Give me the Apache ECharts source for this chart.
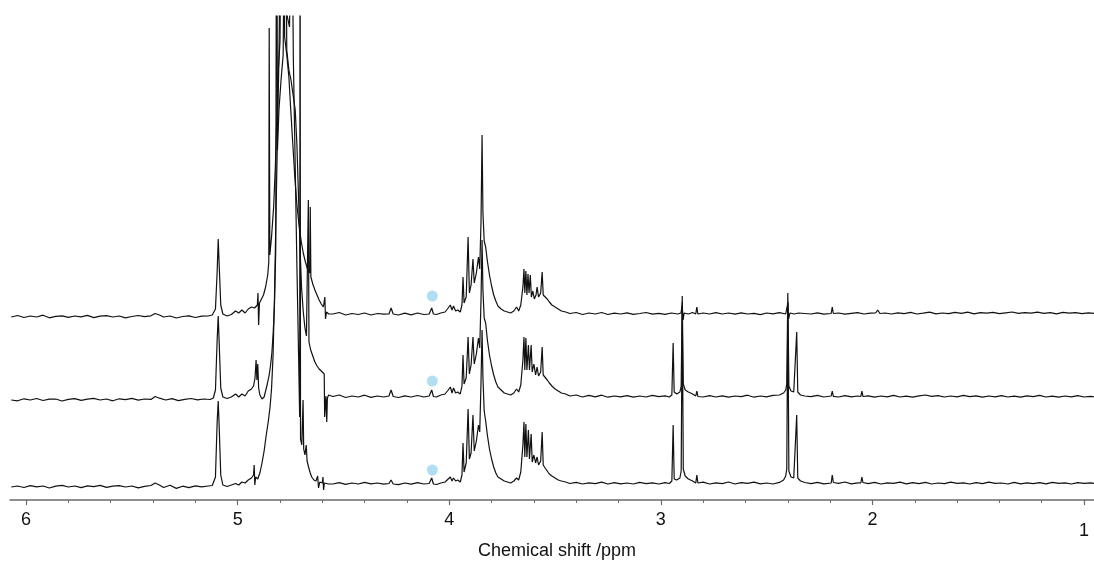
<!DOCTYPE html>
<html><head><meta charset="utf-8">
<script src="https://cdn.jsdelivr.net/npm/echarts@6/dist/echarts.min.js"></script>
<style>html,body{margin:0;padding:0;background:#fff}#c{width:1094px;height:563px}</style>
</head><body><div id="c"></div>
<script>
// Axis (chemical shift, ppm), reversed
const PPM_MIN = 0.953, PPM_MAX = 6.076;
const MAJOR_TICKS = [6, 5, 4, 3, 2, 1];
const MINOR_TICKS = [5.8,5.6,5.4,5.2,4.8,4.6,4.4,4.2,3.8,3.6,3.4,3.2,2.8,2.6,2.4,2.2,1.8,1.6,1.4,1.2];
const AXIS_TITLE = 'Chemical shift /ppm';
// stacking offsets (intensity units) of the three spectra: bottom, middle, top
const TRACE_OFFSETS = [13, 100, 183];
const Y_MAX = 484;
// marker (blue dot) position
const MARKER_PPM = 4.08;
const MARKER_LIFT = [17, 19, 21];

// [ppm, intensity]
const traceTop = [[6.07,0],[6.04,1.5],[6.01,-0.5],[5.98,1],[5.95,0],[5.92,1.8],[5.89,-0.8],[5.86,0.6],[5.83,1.2],[5.80,-0.4],[5.77,1],[5.74,0.2],[5.71,1.6],[5.68,-0.6],[5.65,0.8],[5.62,1.4],[5.59,0],[5.56,1],[5.53,-0.8],[5.50,0.5],[5.47,1.5],[5.44,0.3],[5.41,1.2],[5.39,3.5],[5.37,2],[5.35,0],[5.32,1],[5.29,-1],[5.26,0.5],[5.23,1.2],[5.20,-0.5],[5.17,0.8],[5.14,1],[5.12,2],[5.105,8],[5.097,45],[5.092,78],[5.087,50],[5.08,12],[5.07,3],[5.05,1],[5.03,2.5],[5.01,6],[4.995,4],[4.98,7],[4.965,4],[4.95,8],[4.935,10],[4.92,9],[4.907,12],[4.904,24],[4.901,-8],[4.897,14],[4.888,16],[4.878,22],[4.868,30],[4.858,42],[4.853,55],[4.851,289],[4.848,62],[4.84,80],[4.83,110],[4.822,150],[4.815,200],[4.81,240],[4.80,275],[4.786,620],[4.778,280],[4.768,262],[4.758,240],[4.75,210],[4.74,175],[4.73,140],[4.72,112],[4.71,92],[4.70,76],[4.69,64],[4.68,55],[4.67,48],[4.66,44],[4.657,110],[4.654,40],[4.645,33],[4.635,27],[4.625,22],[4.615,17],[4.605,13],[4.595,10],[4.59,12],[4.588,20],[4.585,-2],[4.58,5],[4.57,3],
[4.55,3],[4.52,4.5],[4.49,2],[4.46,3.5],[4.43,2.5],[4.40,4],[4.37,2],[4.34,3.5],[4.31,2.8],[4.285,3],[4.275,9],[4.265,3],[4.24,2],[4.21,3.8],[4.18,2.2],[4.15,4],[4.12,2.5],[4.095,3],[4.083,9],[4.075,3],[4.06,2.5],[4.04,4],[4.02,5],[4.005,9],[3.995,12],[3.987,7],[3.98,11],[3.97,6],[3.96,7],[3.948,5],[3.94,12],[3.935,40],[3.93,14],[3.92,20],[3.911,80],[3.905,24],[3.897,32],[3.888,58],[3.882,34],[3.872,44],[3.862,60],[3.856,48],[3.85,95],[3.845,182],[3.841,105],[3.835,76],[3.828,70],[3.82,56],[3.81,42],[3.80,31],[3.79,22],[3.78,16],[3.77,11],[3.755,8],[3.74,6],[3.725,5],[3.71,4],[3.695,6],[3.682,10],[3.672,6],[3.662,12],[3.652,30],[3.647,48],[3.643,24],[3.638,46],[3.633,22],[3.628,43],[3.623,24],[3.617,42],[3.612,20],[3.605,26],[3.598,18],[3.59,22],[3.585,30],[3.578,20],[3.568,24],[3.561,45],[3.556,22],[3.547,21],[3.537,18],[3.527,15],[3.515,12],[3.50,10],[3.485,8],[3.47,6],[3.45,5],[3.43,3.5],[3.40,4.5],[3.37,2.5],[3.34,4],[3.31,3],[3.28,4.5],[3.25,2.5],[3.22,3.8],[3.19,3],[3.16,4.2],[3.13,2.6],[3.10,3.5],[3.07,4.5],[3.04,2.8],[3.01,3.6],[2.98,2.6],[2.95,4],[2.92,3],[2.905,4],[2.899,12],[2.895,-3],[2.89,4],[2.87,3],[2.85,4.5],[2.835,3],[2.83,10],[2.825,3],[2.80,4],[2.77,3],[2.74,4.4],[2.71,3],[2.68,4],[2.65,2.8],[2.62,4.2],[2.59,3],[2.56,3.6],[2.53,2.4],[2.50,4],[2.47,3.2],[2.44,4.4],[2.41,3],[2.404,4],[2.40,14],[2.396,-2],[2.39,4],[2.37,3],[2.35,4],[2.32,3.5],[2.29,3],[2.26,4.2],[2.23,2.8],[2.195,3.5],[2.19,10],[2.185,3.5],[2.16,4],[2.13,2.8],[2.10,3.6],[2.07,4.4],[2.04,3],[2.01,3.8],[1.985,4],[1.975,7],[1.965,3.5],[1.94,4],[1.91,3],[1.88,4.2],[1.85,3.4],[1.82,4.6],[1.79,3],[1.76,3.8],[1.73,4.8],[1.70,3.2],[1.67,4],[1.64,3.4],[1.61,4.6],[1.58,3.6],[1.55,4.8],[1.52,3.2],[1.49,4.4],[1.46,3.8],[1.43,4.6],[1.40,3.4],[1.37,4.2],[1.34,5],[1.31,3.6],[1.28,4.4],[1.25,3.8],[1.22,4.8],[1.19,3.6],[1.16,4.4],[1.13,3.2],[1.10,4.6],[1.07,3.8],[1.04,4.4],[1.01,3.4],[0.98,4.2],[0.95,3.6]];

const traceMiddle = [[6.07,0],[6.04,-0.8],[6.01,1.2],[5.98,0],[5.95,1.5],[5.92,-0.5],[5.89,0.8],[5.86,1],[5.83,-1],[5.80,0.6],[5.77,1.4],[5.74,-0.4],[5.71,0.8],[5.68,1.6],[5.65,0],[5.62,1],[5.59,-0.8],[5.56,1.2],[5.53,0.4],[5.50,1.6],[5.47,-0.2],[5.44,1],[5.41,0.6],[5.39,3.5],[5.37,1.8],[5.34,0],[5.31,1.4],[5.28,-0.6],[5.25,0.6],[5.22,1.5],[5.19,0.2],[5.16,1],[5.13,0.5],[5.115,2],[5.105,10],[5.097,60],[5.092,84],[5.087,55],[5.08,12],[5.07,3],[5.05,1.5],[5.03,3],[5.01,6],[4.995,3],[4.98,6],[4.965,4],[4.95,9],[4.935,11],[4.925,14],[4.918,22],[4.913,40],[4.909,20],[4.905,36],[4.901,12],[4.895,5],[4.885,1],[4.875,3],[4.868,9],[4.86,16],[4.852,24],[4.845,34],[4.838,48],[4.832,68],[4.826,95],[4.82,150],[4.816,620],[4.812,250],[4.805,290],[4.795,320],[4.785,345],[4.775,620],[4.768,350],[4.758,330],[4.748,320],[4.738,305],[4.728,290],[4.72,255],[4.712,200],[4.705,150],[4.698,112],[4.69,88],[4.682,72],[4.675,64],[4.669,62],[4.666,200],[4.663,58],[4.655,50],[4.645,44],[4.635,38],[4.625,34],[4.615,31],[4.605,29],[4.597,27],[4.591,26],[4.589,-17],[4.586,-6],[4.583,4],[4.579,-22],[4.576,2],[4.57,5],
[4.55,3.5],[4.52,5],[4.49,2.5],[4.46,4],[4.43,3],[4.40,4.8],[4.37,2.6],[4.34,4],[4.31,3],[4.285,4],[4.275,10],[4.265,3.5],[4.24,2.5],[4.21,4.2],[4.18,3],[4.15,4.5],[4.12,3],[4.095,4],[4.083,10],[4.075,3.5],[4.06,3],[4.04,5],[4.02,6],[4.005,10],[3.995,13],[3.987,7],[3.98,12],[3.97,7],[3.96,8],[3.948,6],[3.94,14],[3.935,45],[3.93,16],[3.92,22],[3.911,63],[3.905,26],[3.897,35],[3.888,63],[3.882,36],[3.872,46],[3.862,62],[3.856,52],[3.85,100],[3.845,160],[3.841,110],[3.835,82],[3.828,77],[3.82,60],[3.81,45],[3.80,34],[3.79,25],[3.78,18],[3.77,13],[3.755,10],[3.74,7],[3.725,6],[3.71,5],[3.695,7],[3.682,11],[3.672,8],[3.662,15],[3.652,40],[3.647,63],[3.643,30],[3.638,62],[3.633,30],[3.626,55],[3.621,30],[3.613,55],[3.608,28],[3.60,36],[3.592,25],[3.585,33],[3.578,24],[3.568,28],[3.561,53],[3.556,25],[3.547,23],[3.537,20],[3.527,17],[3.515,14],[3.50,11],[3.485,9],[3.47,7],[3.45,6],[3.43,4],[3.40,5],[3.37,3],[3.34,4.6],[3.31,3.2],[3.28,4.8],[3.25,2.8],[3.22,4],[3.19,3.2],[3.16,4.4],[3.13,2.8],[3.10,4],[3.07,3],[3.04,4.6],[3.01,3.4],[2.98,4.2],[2.96,3],[2.948,5],[2.942,57],[2.937,8],[2.925,6],[2.91,8],[2.904,14],[2.899,104],[2.894,16],[2.885,10],[2.87,8],[2.85,6],[2.835,4],[2.83,9],[2.825,3.5],[2.80,3],[2.77,4.4],[2.74,3],[2.71,4.2],[2.68,2.8],[2.65,4],[2.62,3.4],[2.59,4.8],[2.56,2.8],[2.53,4],[2.50,3.2],[2.47,4.6],[2.44,5],[2.42,7],[2.41,10],[2.405,16],[2.40,107],[2.395,14],[2.385,9],[2.372,8],[2.363,10],[2.358,68],[2.353,8],[2.34,5],[2.32,4],[2.29,3.4],[2.26,4.6],[2.23,3],[2.195,4],[2.19,9],[2.185,3.6],[2.16,3],[2.13,4.4],[2.10,3.2],[2.07,4],[2.055,3.5],[2.05,9],[2.045,3.5],[2.02,4.2],[1.99,2.8],[1.96,4],[1.93,3.2],[1.90,4.6],[1.87,3],[1.84,3.8],[1.81,2.8],[1.78,4.2],[1.75,5],[1.72,3.6],[1.69,4.4],[1.66,3],[1.63,4],[1.60,3.2],[1.57,4.6],[1.54,3.4],[1.51,4.2],[1.48,2.8],[1.45,4],[1.42,3.2],[1.39,4.4],[1.36,3],[1.33,3.8],[1.30,2.8],[1.27,4.2],[1.24,3.4],[1.21,4.6],[1.18,3],[1.15,3.8],[1.12,2.8],[1.09,4],[1.06,3.2],[1.03,4.4],[1.00,3],[0.97,3.6],[0.95,3.2]];

const traceBottom = [[6.07,0],[6.04,1],[6.01,-0.5],[5.98,1.4],[5.95,0.2],[5.92,1],[5.89,-1],[5.86,0.8],[5.83,1.6],[5.80,0],[5.77,1],[5.74,-0.6],[5.71,1.2],[5.68,0.4],[5.65,1.6],[5.62,-0.4],[5.59,0.8],[5.56,1.4],[5.53,0],[5.50,1],[5.47,-0.8],[5.44,0.6],[5.41,1.5],[5.39,4],[5.37,2],[5.35,-0.5],[5.32,1.8],[5.29,-1.4],[5.26,0.8],[5.23,-0.6],[5.20,1.2],[5.17,0.2],[5.14,1],[5.12,1.5],[5.105,10],[5.097,65],[5.092,86],[5.087,58],[5.08,12],[5.07,2],[5.05,0.5],[5.03,2],[5.01,3.5],[4.995,2],[4.98,5],[4.965,4],[4.95,7],[4.935,9],[4.925,12],[4.922,22],[4.919,2],[4.915,10],[4.905,8],[4.895,14],[4.885,24],[4.875,36],[4.865,52],[4.855,66],[4.847,80],[4.84,98],[4.833,130],[4.826,190],[4.82,260],[4.812,350],[4.805,430],[4.795,620],[4.785,500],[4.775,480],[4.765,470],[4.755,460],[4.744,620],[4.737,430],[4.728,320],[4.72,220],[4.712,130],[4.707,70],[4.705,620],[4.703,48],[4.697,42],[4.691,87],[4.688,38],[4.682,32],[4.676,42],[4.672,26],[4.665,20],[4.657,14],[4.65,10],[4.64,7],[4.63,6],[4.622,11],[4.618,-1],[4.612,5],[4.60,4],[4.597,10],[4.594,-3],[4.59,4],[4.57,3],
[4.55,3],[4.52,4.4],[4.49,2.6],[4.46,4],[4.43,3],[4.40,4.6],[4.37,3.2],[4.34,4],[4.31,2.8],[4.285,3.5],[4.275,7],[4.265,3],[4.24,2.4],[4.21,4],[4.18,2.8],[4.15,4.4],[4.12,3],[4.095,3.5],[4.083,9],[4.075,3],[4.06,2.5],[4.04,4],[4.02,5],[4.005,8],[3.995,10],[3.987,6],[3.98,9],[3.97,6],[3.96,7],[3.948,5],[3.94,12],[3.935,44],[3.93,15],[3.92,24],[3.911,78],[3.905,28],[3.897,34],[3.888,72],[3.882,36],[3.872,46],[3.862,62],[3.856,55],[3.85,105],[3.845,157],[3.841,110],[3.835,76],[3.828,66],[3.82,52],[3.81,38],[3.80,28],[3.79,20],[3.78,14],[3.77,10],[3.755,8],[3.74,6],[3.725,5],[3.71,4],[3.695,6],[3.682,9],[3.672,7],[3.662,15],[3.652,42],[3.647,65],[3.643,30],[3.638,63],[3.633,30],[3.626,57],[3.621,28],[3.613,53],[3.608,25],[3.60,32],[3.592,24],[3.585,30],[3.578,22],[3.568,26],[3.561,55],[3.556,22],[3.547,19],[3.537,16],[3.527,13],[3.515,11],[3.50,9],[3.485,7],[3.47,6],[3.45,5],[3.43,3.5],[3.40,4.6],[3.37,3],[3.34,4.2],[3.31,3.4],[3.28,4.8],[3.25,3],[3.22,4.4],[3.19,3.2],[3.16,4],[3.13,3],[3.10,4.6],[3.07,3.4],[3.04,4.2],[3.01,3],[2.98,4.4],[2.96,3.5],[2.948,6],[2.942,62],[2.937,8],[2.925,7],[2.91,9],[2.904,16],[2.899,185],[2.894,18],[2.885,11],[2.87,8],[2.85,6],[2.835,4],[2.83,12],[2.825,4],[2.80,4.8],[2.77,3],[2.74,4.2],[2.71,3.4],[2.68,5],[2.65,3],[2.62,4.4],[2.59,3.6],[2.56,4.8],[2.53,3.2],[2.50,4],[2.47,3],[2.44,4.6],[2.42,7],[2.41,11],[2.405,18],[2.40,185],[2.395,16],[2.385,10],[2.372,9],[2.363,11],[2.358,72],[2.353,9],[2.34,6],[2.32,4.5],[2.29,3.4],[2.26,4.6],[2.23,3.2],[2.195,4],[2.19,12],[2.185,4.5],[2.16,3.6],[2.13,5],[2.10,3.2],[2.07,4.2],[2.055,4],[2.05,10],[2.045,4.5],[2.02,3.4],[1.99,4.6],[1.96,3],[1.93,4.2],[1.90,3.6],[1.87,4.8],[1.84,3.2],[1.81,4.4],[1.78,3.4],[1.75,4.6],[1.72,3],[1.69,4],[1.66,3.4],[1.63,4.8],[1.60,3.6],[1.57,4.2],[1.54,3],[1.51,4.4],[1.48,3.4],[1.45,4.8],[1.42,3.6],[1.39,4],[1.36,3],[1.33,4.6],[1.30,3.2],[1.27,4.2],[1.24,3.4],[1.21,4.4],[1.18,3.2],[1.15,4.6],[1.12,3.6],[1.09,4.2],[1.06,3],[1.03,4.4],[1.00,3.6],[0.97,4.2],[0.95,3.4]];

const TRACES = [traceBottom, traceMiddle, traceTop];

const FONT = "'Liberation Sans', Arial, sans-serif";
const chart = echarts.init(document.getElementById('c'), null, {renderer: 'canvas'});

const series = TRACES.map((tr, i) => ({
  type: 'line',
  xAxisIndex: 0,
  data: tr.map(([p, h]) => [p, h + TRACE_OFFSETS[i]]),
  symbol: 'none',
  clip: true,
  lineStyle: {color: '#111', width: 1.2},
  z: 2
}));
series.push({
  type: 'scatter',
  xAxisIndex: 0,
  data: TRACE_OFFSETS.map((o, i) => [MARKER_PPM, o + MARKER_LIFT[i]]),
  symbol: 'circle',
  symbolSize: 11,
  itemStyle: {color: '#9dd6f0'},
  z: 5
});

chart.setOption({
  animation: false,
  backgroundColor: '#fff',
  grid: {left: 10, right: 0, top: 16, bottom: 63, containLabel: false, outerBoundsMode: 'none'},
  xAxis: [{
    type: 'value', inverse: true, min: PPM_MIN, max: PPM_MAX,
    position: 'bottom',
    axisLine: {show: true, lineStyle: {color: '#6a6a6a', width: 1.5}},
    axisTick: {show: true, inside: false, length: 5, customValues: MAJOR_TICKS, lineStyle: {color: '#6a6a6a', width: 1.2}},
    splitLine: {show: false},
    axisLabel: {
      customValues: MAJOR_TICKS,
      margin: 11,
      fontFamily: FONT, fontSize: 18, color: '#111',
      formatter: v => (v === 1 ? '{low|1}' : String(v)),
      rich: {low: {fontFamily: FONT, fontSize: 18, color: '#111', padding: [11, 0, 0, 0]}}
    },
    name: AXIS_TITLE, nameLocation: 'middle', nameGap: 42, nameMoveOverlap: false,
    nameTextStyle: {fontFamily: FONT, fontSize: 18, color: '#111', padding: [0, 0, 0, 10]}
  }, {
    type: 'value', inverse: true, min: PPM_MIN, max: PPM_MAX,
    position: 'bottom',
    axisLine: {show: false},
    axisTick: {show: true, inside: false, length: 3, customValues: MINOR_TICKS, lineStyle: {color: '#6a6a6a', width: 1}},
    axisLabel: {show: false},
    splitLine: {show: false}
  }],
  yAxis: {type: 'value', min: 0, max: Y_MAX, show: false, splitLine: {show: false}},
  series: series
});
</script></body></html>
